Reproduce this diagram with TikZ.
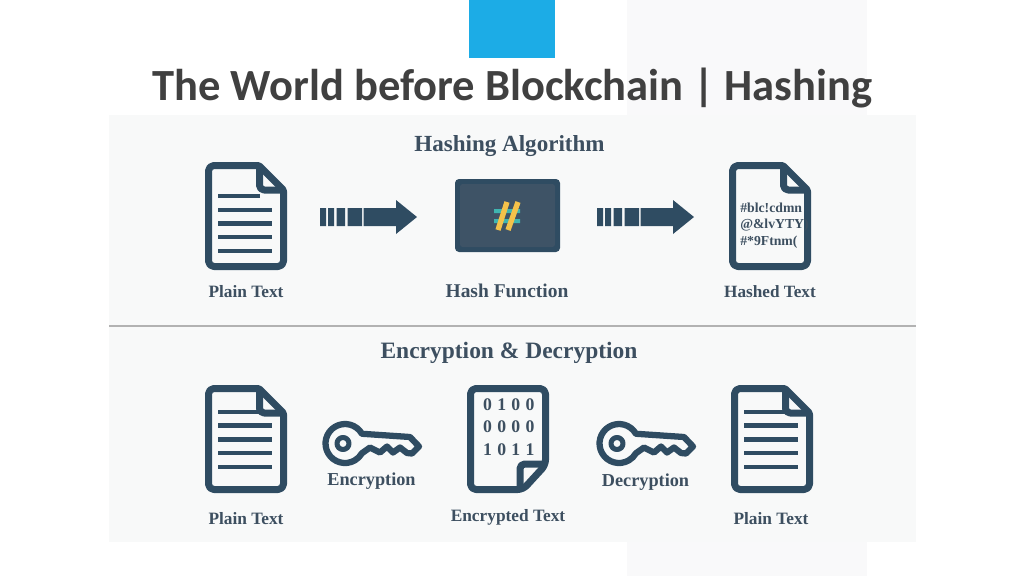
\documentclass[tikz,border=0pt]{standalone}
\usepackage{fontspec}
\setmainfont{Liberation Serif}
\newfontfamily\titlefont{Carlito}
\definecolor{ink}{HTML}{2F4C62}
\definecolor{labelc}{HTML}{3D4F60}
\definecolor{panel}{HTML}{F8F9F9}
\definecolor{strip}{HTML}{F9F9FA}
\definecolor{boxin}{HTML}{3E5366}
\definecolor{tealc}{HTML}{3FB5B0}
\definecolor{yellowc}{HTML}{F4C24A}
\definecolor{blueblock}{HTML}{1CACE6}
\definecolor{titlec}{HTML}{404040}
\newcommand{\labsize}[1]{\bfseries\fontsize{#1pt}{#1pt}\selectfont}
\tikzset{
  iconline/.style={draw=ink,line width=5.25pt,line join=round},
  textline/.style={draw=ink,line width=3.4pt},
  keyline/.style={draw=ink,line join=round},
  lab/.style={text=labelc,inner sep=0pt,anchor=center},
  dig/.style={font=\labsize{13.3},text=labelc,inner sep=0pt,anchor=center},
  hashtxt/.style={font=\labsize{10.3},text=labelc,inner sep=0pt,anchor=west},
  arrowshape/.style={fill=ink,draw=none}
}
% document with the fold at the top right; #1,#2 = left and top outer corner
\newcommand{\docTR}[2]{%
  \begin{scope}[shift={(#1,#2)}]
    \draw[iconline] (30,3.5) [rounded corners=4pt] -- (3.5,3.5) -- (3.5,104.5) -- (78.5,104.5) -- (78.5,50) [rounded corners=1pt] -- (78.5,28) -- (54,3.5) -- cycle;
    \draw[iconline,rounded corners=3.5pt] (54.5,3.5) -- (54.5,28) -- (78.5,28);
  \end{scope}}
\newcommand{\arrowicon}[2]{%
  \begin{scope}[shift={(#1,#2)}]
    \fill[arrowshape] (0,-9) rectangle (6,9) (8,-9) rectangle (14,9) (16.5,-9) rectangle (25,9) (27.5,-9) rectangle (42,9);
    \fill[arrowshape] (43.5,-9) -- (76,-9) -- (76,-17) -- (97,0) -- (76,17) -- (76,9) -- (43.5,9) -- cycle;
  \end{scope}}
\newcommand{\keyicon}[2]{%
  \begin{scope}[shift={(#1,#2)}]
    \draw[keyline,line width=3.8pt] (0,0) circle (6);
    \draw[keyline,line width=4.7pt] (18.9,-9.75) arc[start angle=-30,end angle=-330,radius=19.5]
      -- (27,4) -- (37,9) -- (44,3) -- (50,9) -- (57,4) -- (64,9.5) -- (69,10) -- (76,3) -- (67,-6.5) -- cycle;
  \end{scope}}
\begin{document}
\begin{tikzpicture}[x=0.75pt,y=-0.75pt]
\useasboundingbox (0,0) rectangle (1024,576);
\fill[white] (0,0) rectangle (1024,576);
\fill[strip] (627,0) rectangle (867,576);
\fill[panel] (109,115) rectangle (916,542);
\fill[blueblock] (468.5,0) rectangle (555,57.5);
\node[font=\titlefont\labsize{33.4},text=titlec,inner sep=0pt] (title) at (512.5,88.5) {The World before Blockchain | Hashing};
\draw[color=black!30,line width=1.1pt] (109,326) -- (916,326);
\node[lab,font=\labsize{17.3}] (h1) at (509.5,146) {Hashing Algorithm};
\node[lab,font=\labsize{17.6}] (h2) at (509,353) {Encryption \& Decryption};
% top row
\docTR{205}{162}
\foreach \y/\e in {196/260,210/272,223.5/272,237/272,251/272}{\draw[textline] (218,\y) -- (\e,\y);}
\arrowicon{320}{217}
\arrowicon{597}{217}
\fill[ink,rounded corners=3pt] (455,179) rectangle (560,252);
\fill[boxin,rounded corners=2pt] (460,184) rectangle (555,247);
\fill[tealc] (494,209) rectangle (520,213) (494,219) rectangle (520,223);
\draw[yellowc,line width=4pt] (507,202) -- (498,230) (518,202) -- (508,230);
\docTR{729}{162}
\node[hashtxt] (hl1) at (740,208) {\#blc!cdmn};
\node[hashtxt] (hl2) at (740,225.5) {@\&lvYTY)};
\node[hashtxt] (hl3) at (740,242.5) {\#*9Ftnm(};
\node[lab,font=\labsize{13}] (pt1) at (246,292) {Plain Text};
\node[lab,font=\labsize{14.6}] (hf) at (507,291) {Hash Function};
\node[lab,font=\labsize{12.9}] (ht) at (770,292) {Hashed Text};
% bottom row
\docTR{205}{385}
\foreach \y/\e in {412/260,425.7/272,439.3/272,453/272,467/272}{\draw[textline] (218,\y) -- (\e,\y);}
\keyicon{343}{443.5}
\node[lab,font=\labsize{13.7}] (enc) at (371.5,481) {Encryption};
\begin{scope}[shift={(467,385)}]
  \draw[iconline] (30,3.5) [rounded corners=4pt] -- (3.5,3.5) -- (3.5,104.5) -- (56,104.5) -- (78.5,80) -- (78.5,3.5) -- cycle;
  \draw[iconline,rounded corners=3.5pt] (78.5,79) -- (53,79) -- (53,104.5);
\end{scope}
\foreach \x/\d in {487.5/0,501.7/1,515.8/0,530/0}{\node[dig] at (\x,405) {\d};}
\foreach \x/\d in {487.5/0,501.7/0,515.8/0,530/0}{\node[dig] at (\x,427) {\d};}
\foreach \x/\d in {487.5/1,501.7/0,515.8/1,530/1}{\node[dig] at (\x,450) {\d};}
\keyicon{617}{443.5}
\node[lab,font=\labsize{13.7}] (dec) at (645.5,482) {Decryption};
\docTR{731}{385}
\foreach \y/\e in {412/786,425.7/798,439.3/798,453/798,467/798}{\draw[textline] (744,\y) -- (\e,\y);}
\node[lab,font=\labsize{13}] (pt2) at (246,519) {Plain Text};
\node[lab,font=\labsize{13}] (et) at (508,517) {Encrypted Text};
\node[lab,font=\labsize{13}] (pt3) at (771,519) {Plain Text};
\end{tikzpicture}
\end{document}
